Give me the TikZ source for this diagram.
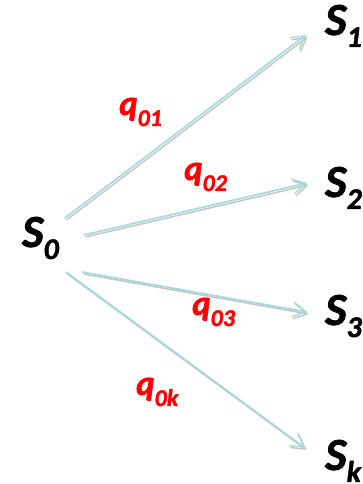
\documentclass[tikz,border=0pt]{standalone}
\usepackage{fontspec}
\setmainfont{Carlito}[BoldItalicFeatures={FakeBold=1.6}]
\usetikzlibrary{arrows.meta}
\definecolor{arrcyan}{HTML}{A4DADE}
\definecolor{arrgray}{HTML}{C4C4C4}
\definecolor{qred}{HTML}{FF0000}
\tikzset{
  x=1pt,y=1pt,
  state/.style={anchor=base west,inner sep=0pt,font=\fontsize{46}{46}\selectfont\bfseries\itshape,text=black},
  rate/.style={anchor=base west,inner sep=0pt,font=\fontsize{35}{35}\selectfont\bfseries\itshape,text=qred},
  tipstyle/.style={-{Straight Barb[length=13pt,width=15pt,line width=1.4pt]}},
  trans/.style={tipstyle,draw=arrcyan,line width=1.7pt},
  transshadow/.style={tipstyle,draw=arrgray,line width=1.5pt},
}
\newcommand{\ssub}[1]{\raisebox{-12pt}{\fontsize{30}{30}\selectfont #1}}
\newcommand{\qsub}[1]{\raisebox{-11pt}{\fontsize{24}{24}\selectfont #1}}
\begin{document}
\begin{tikzpicture}
\useasboundingbox (0,0) rectangle (362,484);
% states
\node[state] (s0) at (22,237) {S\ssub{0}};
\node[state] (s1) at (325,449) {S\ssub{1}};
\node[state] (s2) at (325,287) {S\ssub{2}};
\node[state] (s3) at (325,159) {S\ssub{3}};
\node[state] (sk) at (325,14) {S\ssub{k}};
% arrow end points
\coordinate (a1) at (65,266);
\coordinate (b1) at (306,449);
\coordinate (a2) at (84,249);
\coordinate (b2) at (307,301);
\coordinate (a3) at (82,212);
\coordinate (b3) at (307,172);
\coordinate (a4) at (66,212);
\coordinate (b4) at (305,36);
% shadows
\foreach \i in {1,2,3,4}{
  \draw[transshadow] ([shift={(1.5,-2)}]a\i) -- ([shift={(1.5,-2)}]b\i);
}
% arrows
\draw[trans] (a1) -- (b1);
\draw[trans] (a2) -- (b2);
\draw[trans] (a3) -- (b3);
\draw[trans] (a4) -- (b4);
% rates
\node[rate] (q1) at (119,369) {q\qsub{01}};
\node[rate] (q2) at (184,304) {q\qsub{02}};
\node[rate] (q3) at (192,169) {q\qsub{03}};
\node[rate] (qk) at (136,89) {q\qsub{0k}};
\end{tikzpicture}
\end{document}
